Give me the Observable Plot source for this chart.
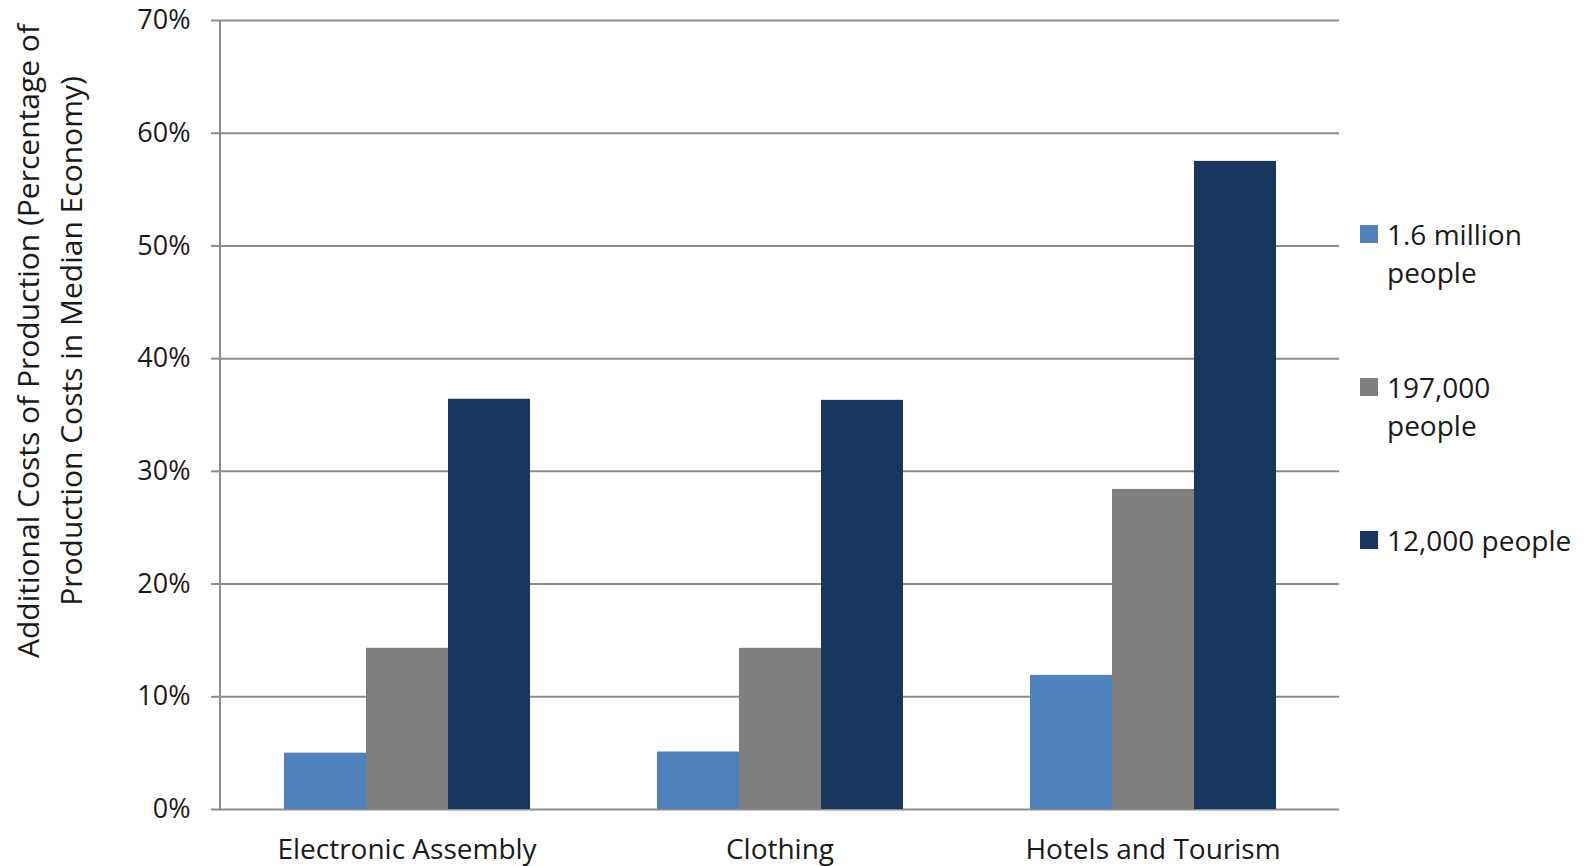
<!DOCTYPE html>
<html>
<head>
<meta charset="utf-8">
<script src="https://cdn.jsdelivr.net/npm/d3@7"></script>
<script src="https://cdn.jsdelivr.net/npm/@observablehq/plot@0.6"></script>
<style>
  body { margin: 0; background: #fff; font-family: "Open Sans", sans-serif; }
  #chart { position: relative; width: 1588px; height: 866px; }
  #chart svg { position: absolute; left: 0; top: 0; }
  .item { position: absolute; left: 1360px; }
  .swatch { position: absolute; left: 0; top: 10px; width: 18px; height: 18px; }
  .label { position: absolute; left: 27px; top: 0; white-space: pre; font-size: 28px; line-height: 38px; color: #1a1a1a; }
</style>
</head>
<body>
<div id="chart"></div>
<script>
// Industries on the horizontal axis
const categories = ["Electronic Assembly", "Clothing", "Hotels and Tourism"];
// Population size of the economy (one bar per group)
const series = ["1.6 million people", "197,000 people", "12,000 people"];
const legendLabels = ["1.6 million\npeople", "197,000\npeople", "12,000 people"];
const colors = ["#4F81BD", "#7F7F7F", "#17375E"];
// Additional costs of production, as a share of median-economy costs
const electronicAssembly = [0.050, 0.143, 0.364];
const clothing = [0.051, 0.143, 0.363];
const hotelsTourism = [0.119, 0.284, 0.575];
const yTicks = [0, 0.1, 0.2, 0.3, 0.4, 0.5, 0.6, 0.7];
const yTitle = "Additional Costs of Production (Percentage of\nProduction Costs in Median Economy)";

const valuesByCategory = [electronicAssembly, clothing, hotelsTourism];
const rows = categories.flatMap((c, i) =>
  series.map((s, j) => ({category: c, series: s, value: valuesByCategory[i][j]}))
);

const gridColor = "#8c8c8c";
const textColor = "#1a1a1a";
const marginLeft = 220;

const chart = Plot.plot({
  width: 1588,
  height: 866,
  marginLeft,
  marginRight: 249,
  marginTop: 20,
  marginBottom: 57,
  style: {fontFamily: "Open Sans, sans-serif", fontSize: "27px", color: textColor, background: "transparent"},
  fx: {domain: categories, padding: 0, label: null},
  x: {domain: series, paddingInner: 0, paddingOuter: 0.75, axis: null},
  y: {domain: [0, 0.7]},
  color: {domain: series, range: colors},
  marks: [
    Plot.gridY(yTicks, {stroke: gridColor, strokeOpacity: 1, strokeWidth: 2}),
    Plot.barY(rows, {fx: "category", x: "series", y: "value", fill: "series", inset: 0}),
    Plot.axisY({
      ticks: yTicks, tickFormat: d3.format(".0%"), tickSize: 9, tickPadding: 21,
      stroke: gridColor, strokeWidth: 2, fill: textColor, fontSize: 27, label: null
    }),
    Plot.axisFx({anchor: "bottom", tickSize: 0, tickPadding: 30, fontSize: 28, fill: textColor, label: null}),
    Plot.text([yTitle], {
      fx: () => categories[0],
      text: d => d,
      frameAnchor: "left",
      rotate: -90,
      dx: -174,
      dy: -74,
      textAnchor: "middle",
      lineHeight: 1.46,
      fontSize: 30,
      fill: textColor
    })
  ]
});

// Vertical axis line along the left edge of the plot area, spanning the y range
const yRange = chart.scale("y").range;
d3.select(chart).append("line")
  .attr("x1", marginLeft).attr("x2", marginLeft)
  .attr("y1", yRange[0]).attr("y2", yRange[1])
  .attr("stroke", gridColor).attr("stroke-width", 2);

const root = document.getElementById("chart");
root.appendChild(chart);

// Legend on the right, one swatch per population size
const legendTops = [215, 368, 521];
series.forEach((s, i) => {
  const item = document.createElement("div");
  item.className = "item";
  item.style.top = legendTops[i] + "px";
  const sw = document.createElement("div");
  sw.className = "swatch";
  sw.style.background = colors[i];
  const lb = document.createElement("div");
  lb.className = "label";
  lb.textContent = legendLabels[i];
  item.appendChild(sw);
  item.appendChild(lb);
  root.appendChild(item);
});
</script>
</body>
</html>
